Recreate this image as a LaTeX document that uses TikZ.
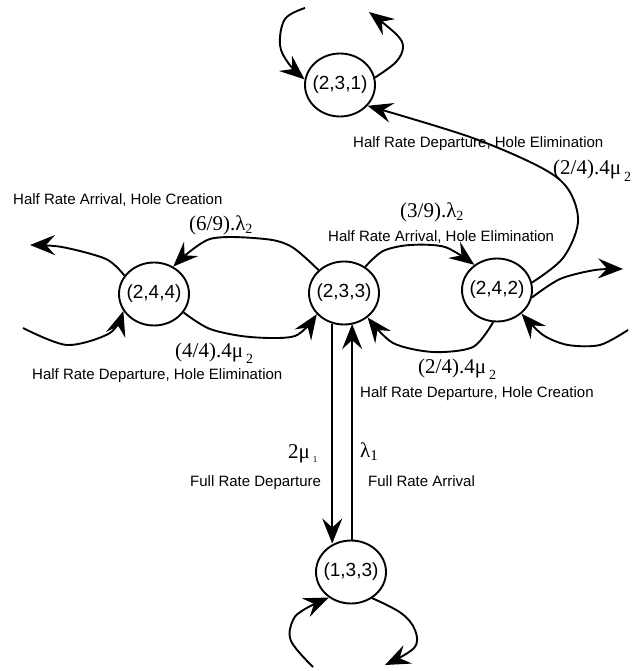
\documentclass[tikz,border=0pt]{standalone}
\usepackage{fontspec}
\setmainfont{Liberation Serif}
\newfontfamily\arialfont{Liberation Sans}
\usetikzlibrary{arrows.meta,shapes.geometric}

% lowered index after a rate symbol: optional gap, size, drop, text
\newcommand\lowix[4][0pt]{\kern#1\raisebox{#3}{\fontsize{#2}{#2}\selectfont #4}}

\tikzset{
  stnode/.style={draw, ellipse, line width=1.9pt, minimum width=70pt,
    minimum height=63pt, inner xsep=-12pt, inner ysep=0pt,
    font=\arialfont\fontsize{19}{21}\selectfont},
  flow/.style={line width=1.9pt,
    -{Stealth[length=25pt, width=20pt, inset=9pt]}},
  lbl/.style={anchor=base west, inner sep=0pt,
    font=\arialfont\fontsize{15}{17}\selectfont},
  rate/.style={anchor=base west, inner sep=0pt,
    font=\fontsize{21}{23}\selectfont},
}

\begin{document}
\begin{tikzpicture}[x=1pt, y=-1pt]
\useasboundingbox (0,0) rectangle (635,671);

% states
\node[stnode] (n231) at (340,85)  {(2,3,1)};
\node[stnode] (n244) at (154,294) {(2,4,4)};
\node[stnode] (n233) at (344,293) {(2,3,3)};
\node[stnode] (n242) at (497,290) {(2,4,2)};
\node[stnode] (n133) at (351,572) {(1,3,3)};

% free ends of the self transitions
\coordinate (c231L)   at (305,8);
\coordinate (c231R)   at (369,12);
\coordinate (c244out) at (30,245);
\coordinate (c244in)  at (23,328);
\coordinate (c242out) at (623,269);
\coordinate (c242in)  at (628,330);
\coordinate (c133L)   at (313,667);
\coordinate (c133R)   at (385,665);

% self transitions of (2,3,1)
\draw[flow] plot[smooth, tension=0.6] coordinates
  {(c231L) (285,19) (280,45) (289,64) (n231.171)};
\draw[flow] plot[smooth, tension=0.6] coordinates
  {(n231.12) (396,62) (403,47) (396,34) (c231R)};

% (2,4,2) -> (2,3,1)
\draw[flow] plot[smooth, tension=0.55] coordinates
  {(n242.12) (563,258) (578,222) (568,189) (540,167) (470,137) (n231.-37)};

% (2,3,3) <-> (2,4,4)
\draw[flow] plot[smooth, tension=0.5] coordinates
  {(n233.138) (292,247) (265,239) (210,239) (n244.55)};
\draw[flow] plot[smooth, tension=0.5] coordinates
  {(n244.-32) (210,329) (250,337) (295,336) (n233.218)};

% self transitions of (2,4,4)
\draw[flow] plot[smooth, tension=0.5] coordinates
  {(n244.148) (106,259) (62,247) (c244out)};
\draw[flow] plot[smooth, tension=0.5] coordinates
  {(c244in) (67,345) (110,333) (n244.209)};

% (2,3,3) <-> (2,4,2)
\draw[flow] plot[smooth, tension=0.5] coordinates
  {(n233.51) (383,251) (410,245) (445,247) (n242.132)};
\draw[flow] plot[smooth, tension=0.5] coordinates
  {(n242.-97) (473,347) (433,352) (393,343) (n233.-46)};

% self transitions of (2,4,2)
\draw[flow] plot[smooth, tension=0.5] coordinates
  {(n242.-12) (560,279) (595,270) (c242out)};
\draw[flow] plot[smooth, tension=0.5] coordinates
  {(c242in) (600,345) (568,345) (543,335) (n242.-44)};

% (2,3,3) <-> (1,3,3)
\draw[flow] (n233.249) -- (n233.249 |- n133.121);
\draw[flow] (n133.88) -- (n133.88 |- n233.288);

% self transitions of (1,3,3)
\draw[flow] plot[smooth, tension=0.6] coordinates
  {(c133L) (291,641) (293,620) (305,609) (n133.229)};
\draw[flow] plot[smooth, tension=0.6] coordinates
  {(n133.-51) (401,613) (415,630) (414,648) (c133R)};

% rates
\node[rate] (r69) at (189,230) {(6/9).λ\lowix{14}{-0.35ex}{2}};
\node[rate] (r39) at (400,217) {(3/9).λ\lowix{14}{-0.35ex}{2}};
\node[rate] (r24a) at (553,175) {(2/4).4μ\lowix[3pt]{14}{-0.7ex}{2}};
\node[rate] (r44) at (175,357) {(4/4).4μ\lowix[3pt]{14}{-0.7ex}{2}};
\node[rate] (r24b) at (418,373) {(2/4).4μ\lowix[3pt]{14}{-0.7ex}{2}};
\node[rate] (r2m1) at (288,458) {2μ\lowix[3pt]{9}{-0.5ex}{1}};
\node[rate] (rl1) at (360,457) {λ\lowix{15}{-0.4ex}{1}};

% event descriptions
\node[lbl] (t1) at (13,204)  {Half Rate Arrival, Hole Creation};
\node[lbl] (t2) at (328,241) {Half Rate Arrival, Hole Elimination};
\node[lbl] (t3) at (353,148) {Half Rate Departure, Hole Elimination};
\node[lbl] (t4) at (32,379)  {Half Rate Departure, Hole Elimination};
\node[lbl] (t5) at (360,397) {Half Rate Departure, Hole Creation};
\node[lbl] (t6) at (190,486) {Full Rate Departure};
\node[lbl] (t7) at (368,486) {Full Rate Arrival};
\end{tikzpicture}
\end{document}
